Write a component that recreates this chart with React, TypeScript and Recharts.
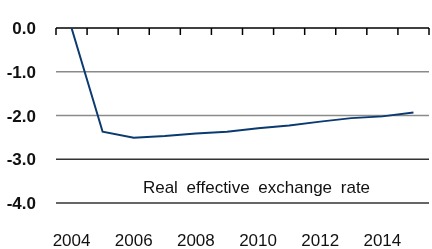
import { LineChart, Line, XAxis, YAxis, ReferenceLine, ReferenceDot } from 'recharts';

const years = [2004, 2005, 2006, 2007, 2008, 2009, 2010, 2011, 2012, 2013, 2014, 2015];
const reer = [0.0, -2.37, -2.51, -2.47, -2.41, -2.37, -2.29, -2.23, -2.14, -2.06, -2.02, -1.93];
const yTicks = [0, -1, -2, -3, -4];
const yearLabels = [2004, 2006, 2008, 2010, 2012, 2014];
const bandEdges = [2003.5, 2004.5, 2005.5, 2006.5, 2007.5, 2008.5, 2009.5, 2010.5, 2011.5, 2012.5, 2013.5, 2014.5, 2015.5];
const seriesLabel = 'Real effective exchange rate';
const topY = -0.001;
const tickDepth = -0.16;

const data = years.map((year, i) => ({ year, reer: reer[i] }));

export default function App() {
  return (
    <div style={{ position: 'fixed', top: 0, left: 0, width: 432, height: 249, fontFamily: 'Arial, "Liberation Sans", sans-serif' }}>
      <LineChart width={432} height={249} data={data} margin={{ top: 28, right: 3, bottom: 0, left: 0 }}>
        <XAxis
          dataKey="year"
          type="number"
          domain={[2003.5, 2015.5]}
          ticks={yearLabels}
          axisLine={false}
          tickLine={false}
          tickSize={0}
          tickMargin={31}
          height={46}
          tick={{ fill: '#111', fontSize: 17 }}
        />
        <YAxis
          domain={[-4, 0]}
          ticks={yTicks}
          width={56}
          axisLine={false}
          tickLine={false}
          tickMargin={20}
          tickSize={0}
          tickFormatter={(v: number) => v.toFixed(1)}
          tick={{ fill: '#111', fontSize: 17, fontWeight: 'bold' }}
        />
        <ReferenceLine y={-1} stroke="#8a8a8a" strokeWidth={1.6} />
        <ReferenceLine y={-2} stroke="#8a8a8a" strokeWidth={1.6} />
        <ReferenceLine y={-3} stroke="#333" strokeWidth={1.4} />
        <ReferenceLine y={-4} stroke="#333" strokeWidth={1.4} />
        {/* top axis: black line at zero with short ticks pointing down at year boundaries */}
        <ReferenceLine y={topY} stroke="#000" strokeWidth={1.5} ifOverflow="visible" />
        {bandEdges.map((e) => (
          <ReferenceLine
            key={e}
            segment={[{ x: e, y: topY }, { x: e, y: tickDepth }]}
            stroke="#000"
            strokeWidth={1.5}
            ifOverflow="visible"
          />
        ))}
        <ReferenceDot
          x={2009.95}
          y={-3.63}
          r={0}
          stroke="none"
          fill="none"
          label={{ value: seriesLabel, position: 'center', fill: '#111', fontSize: 17, wordSpacing: 4 }}
        />
        <Line
          type="linear"
          dataKey="reer"
          stroke="#0b3a70"
          strokeWidth={2}
          dot={false}
          isAnimationActive={false}
        />
      </LineChart>
    </div>
  );
}
